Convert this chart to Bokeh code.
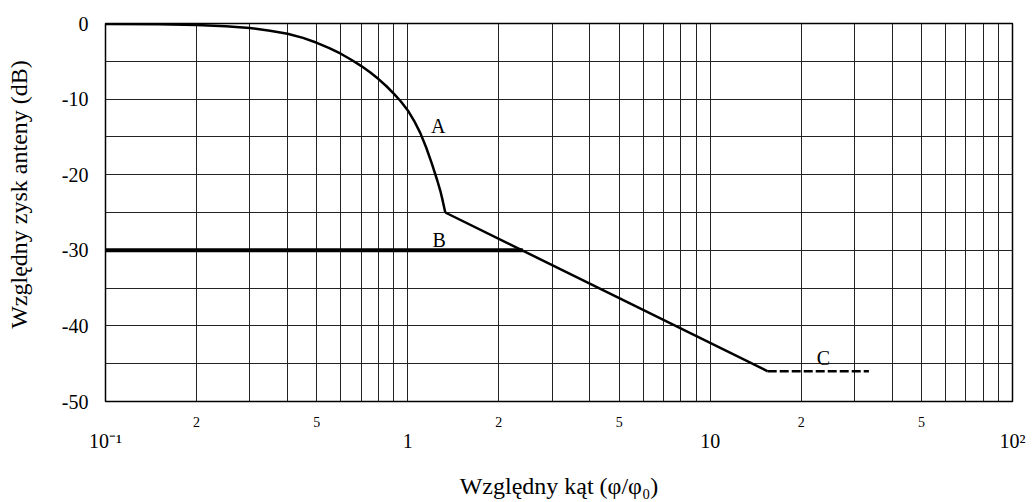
import math
from bokeh.plotting import figure
from bokeh.models import Range1d, FixedTicker, LogAxis
from bokeh.core.properties import value
from bokeh.embed import file_html
from bokeh.resources import INLINE

# ---- data ----
curve_a_x = [0.1, 0.15, 0.2, 0.25, 0.3, 0.35, 0.4, 0.45, 0.5, 0.55, 0.6, 0.65, 0.7, 0.75,
             0.8, 0.85, 0.9, 0.95, 1.0, 1.05, 1.1, 1.15, 1.2, 1.25, 1.28, 1.3, 1.31, 1.33]
curve_a_y = [-0.05, -0.1, -0.2, -0.37, -0.6, -0.95, -1.35, -1.9, -2.55, -3.25, -4.0, -4.8, -5.6, -6.45,
             -7.35, -8.3, -9.3, -10.35, -11.5, -12.9, -14.5, -16.4, -18.5, -20.7, -22.1, -23.2, -23.8, -25.0]

slope_x = [1.33, 15.5]
slope_y = [-25.0, -46.0]

curve_b_x = [0.1, 2.4]
curve_b_y = [-30.0, -30.0]

curve_c_x = [15.5, 33.5]
curve_c_y = [-46.0, -46.0]

label_names = ["A", "B", "C"]
label_x = [1.26, 1.27, 23.7]
label_y = [-13.5, -28.6, -44.2]

y_ticks = [0, -10, -20, -30, -40, -50]
y_tick_labels = ["0", "-10", "-20", "-30", "-40", "-50"]
y_grid = [0, -5, -10, -15, -20, -25, -30, -35, -40, -45, -50]
decades = [0.1, 1, 10]
mantissas = [1, 2, 3, 4, 5, 6, 7, 8, 9]
x_grid = [d * m for d in decades for m in mantissas] + [100]
minor_label_ticks = [0.2, 0.5, 2, 5, 20, 50]
minor_label_texts = ["2", "5", "2", "5", "2", "5"]
major_ticks = [0.1, 1, 10, 100]
major_labels = ["10\u207b\u00b9", "1", "10", "10\u00b2"]

x_title = "Względny kąt (φ/φ₀)"
y_title = "Względny zysk anteny (dB)"

FONT = "Liberation Serif"

p = figure(width=1035, height=502, x_axis_type="log",
           x_range=Range1d(0.1, 100), y_range=Range1d(-50, 0),
           output_backend="svg", toolbar_location=None,
           min_border_left=105, min_border_right=23,
           min_border_top=23, min_border_bottom=101)

p.background_fill_color = "white"
p.border_fill_color = "white"
p.outline_line_color = "black"
p.outline_line_width = 1.5

# grids
p.xgrid.ticker = FixedTicker(ticks=x_grid)
p.ygrid.ticker = FixedTicker(ticks=y_grid)
for g in (p.xgrid, p.ygrid):
    g.grid_line_color = "#222222"
    g.grid_line_width = 1
    g.grid_line_alpha = 1.0


def strip_ticks(ax):
    ax.axis_line_color = None
    ax.major_tick_out = 0
    ax.major_tick_in = 0
    ax.minor_tick_out = 0
    ax.minor_tick_in = 0
    ax.major_label_text_font = FONT
    ax.major_label_text_color = "black"
    ax.axis_label_text_font = FONT
    ax.axis_label_text_font_style = "normal"
    ax.axis_label_text_color = "black"


# y axis
ya = p.yaxis[0]
strip_ticks(ya)
ya.ticker = FixedTicker(ticks=y_ticks)
ya.major_label_overrides = {t: s for t, s in zip(y_ticks, y_tick_labels)}
ya.major_label_standoff = 17
ya.major_label_text_font_size = "20px"
# leading no-break spaces lift the centred title slightly, as in the reference
ya.axis_label = "\u00a0" * 6 + y_title
ya.axis_label_text_font_size = "24px"
ya.axis_label_standoff = 27

# x axis: small "2", "5" labels
xa = p.xaxis[0]
strip_ticks(xa)
xa.ticker = FixedTicker(ticks=minor_label_ticks)
xa.major_label_overrides = {t: s for t, s in zip(minor_label_ticks, minor_label_texts)}
xa.major_label_standoff = 15
xa.major_label_text_font_size = "14px"

# x axis: decade labels + title
xb = LogAxis()
strip_ticks(xb)
xb.ticker = FixedTicker(ticks=major_ticks)
xb.major_label_overrides = {t: s for t, s in zip(major_ticks, major_labels)}
xb.major_label_standoff = 0
xb.major_label_text_font_size = "20px"
xb.axis_label = x_title
xb.axis_label_text_font_size = "24px"
xb.axis_label_standoff = 18
p.add_layout(xb, "below")

# curves
p.line(curve_a_x, curve_a_y, line_color="black", line_width=2.5)
p.line(slope_x, slope_y, line_color="black", line_width=2.5)
p.line(curve_b_x, curve_b_y, line_color="black", line_width=4)
p.line(curve_c_x, curve_c_y, line_color="black", line_width=2.7, line_dash="9 3")

p.text(x=label_x, y=label_y, text=label_names, text_font=value(FONT),
       text_font_size="20px", text_color="black",
       text_align="center", text_baseline="middle")

open("out.html", "w").write(file_html(p, INLINE))
